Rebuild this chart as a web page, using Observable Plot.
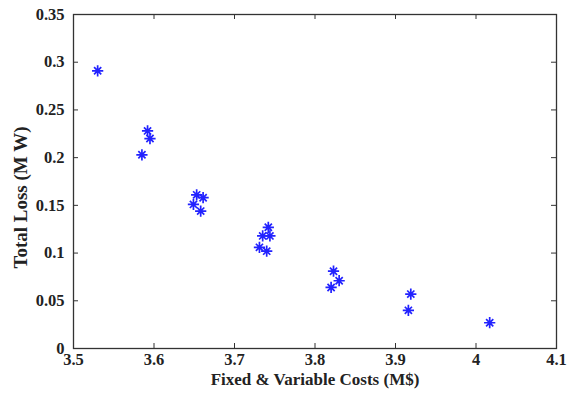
<!DOCTYPE html>
<html>
<head>
<meta charset="utf-8">
<script src="https://cdn.jsdelivr.net/npm/d3@7"></script>
<script src="https://cdn.jsdelivr.net/npm/@observablehq/plot@0.6"></script>
<style>
  html, body { margin: 0; padding: 0; background: #fff; }
  svg { display: block; }
</style>
</head>
<body>
<div id="chart"></div>
<script>
const costs = [3.530, 3.592, 3.595, 3.585, 3.653, 3.661, 3.649, 3.658, 3.742, 3.735, 3.744, 3.731, 3.740, 3.823, 3.830, 3.820, 3.919, 3.916, 4.017];
const losses = [0.291, 0.228, 0.220, 0.203, 0.161, 0.158, 0.151, 0.144, 0.127, 0.118, 0.118, 0.106, 0.102, 0.081, 0.071, 0.064, 0.057, 0.040, 0.027];
const xTicks = [3.5, 3.6, 3.7, 3.8, 3.9, 4.0, 4.1];
const yTicks = [0, 0.05, 0.1, 0.15, 0.2, 0.25, 0.3, 0.35];
const xLabel = "Fixed & Variable Costs (M$)";
const yLabel = "Total Loss (M W)";

const data = costs.map((c, i) => ({cost: c, loss: losses[i]}));

const W = 567, H = 396;
const mL = 73, mR = 11, mT = 14, mB = 48;
const pw = W - mL - mR, ph = H - mT - mB;
const tl = 5;

const star = {
  draw(ctx, size) {
    const r = Math.sqrt(size / Math.PI);
    const a = r * 1.25, b = r * 0.8;
    ctx.moveTo(-a, 0); ctx.lineTo(a, 0);
    ctx.moveTo(0, -a); ctx.lineTo(0, a);
    ctx.moveTo(-b, -b); ctx.lineTo(b, b);
    ctx.moveTo(-b, b); ctx.lineTo(b, -b);
  }
};

const font = "'Liberation Serif', 'Times New Roman', serif";
const fmt = d => String(+d.toFixed(2));

const chart = Plot.plot({
  width: W, height: H,
  marginLeft: mL, marginRight: mR, marginTop: mT, marginBottom: mB,
  style: {fontFamily: font, fontWeight: "bold", fontSize: "16px", color: "#222", background: "white"},
  x: {domain: [3.5, 4.1], label: null},
  y: {domain: [0, 0.35], label: null},
  marks: [
    Plot.axisX(xTicks, {tickSize: 0, tickPadding: 5, fontSize: 16.5, label: null, tickFormat: fmt}),
    Plot.axisY(yTicks, {tickSize: 0, tickPadding: 9, fontSize: 16.5, label: null, tickFormat: fmt}),
    Plot.tickX(xTicks.slice(1, -1), {x: d => d, insetTop: ph - tl, stroke: "#333", strokeWidth: 1}),
    Plot.tickX(xTicks.slice(1, -1), {x: d => d, insetBottom: ph - tl, stroke: "#333", strokeWidth: 1}),
    Plot.tickY(yTicks.slice(1, -1), {y: d => d, insetRight: pw - tl, stroke: "#333", strokeWidth: 1}),
    Plot.tickY(yTicks.slice(1, -1), {y: d => d, insetLeft: pw - tl, stroke: "#333", strokeWidth: 1}),
    Plot.frame({stroke: "#333", strokeWidth: 1.3}),
    Plot.dot(data, {x: "cost", y: "loss", symbol: star, r: 4.5, stroke: "#2222ff", strokeWidth: 1.7}),
    Plot.text([xLabel], {text: d => d, frameAnchor: "bottom", textAnchor: "middle", dy: 36, fontSize: 17, fill: "#222"}),
    Plot.text([yLabel], {text: d => d, frameAnchor: "left", textAnchor: "middle", rotate: -90, dx: -53, dy: 16, fontSize: 19, fill: "#222"})
  ]
});
document.getElementById("chart").appendChild(chart);
</script>
</body>
</html>
